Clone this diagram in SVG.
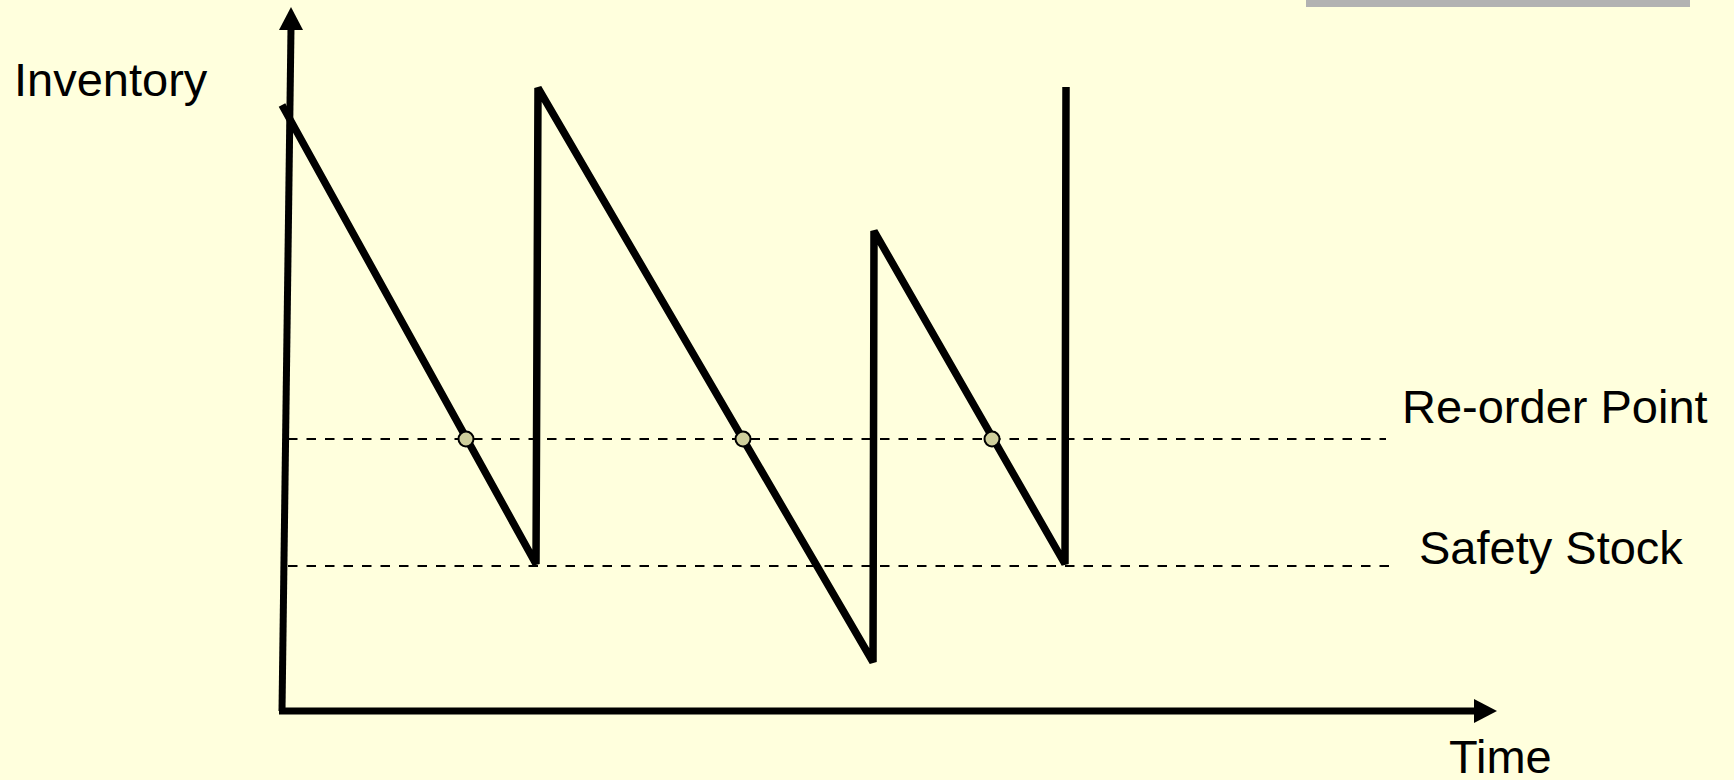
<svg xmlns="http://www.w3.org/2000/svg" width="1734" height="780" viewBox="0 0 1734 780">
<defs>
<style>
.lbl{font-family:"Liberation Sans",Arial,sans-serif;font-size:47px;fill:#000}
.axis{stroke:#000;stroke-width:7;fill:none}
.saw{stroke:#000;stroke-width:7.5;fill:none;stroke-linejoin:bevel;stroke-linecap:butt}
.dash{stroke:#000;stroke-width:2;stroke-dasharray:9.5 9;fill:none}
.pt{fill:#cfcf9c;stroke:#000;stroke-width:2}
</style>
</defs>
<rect width="1734" height="780" fill="#ffffdd"/>
<rect x="1306" y="0" width="384" height="7" fill="#b2b2b2"/>
<g id="guides">
<line class="dash" x1="288" y1="439" x2="1386" y2="439"/>
<line class="dash" x1="288" y1="566" x2="1394" y2="566"/>
</g>
<g id="axes">
<line class="axis" x1="282" y1="711" x2="291" y2="28"/>
<polygon points="291,7 279,30 303,30" fill="#000"/>
<line class="axis" x1="279" y1="711" x2="1476" y2="711"/>
<polygon points="1497,711 1474,699 1474,723" fill="#000"/>
</g>
<g id="connectors">
<polyline class="saw" points="282,105 536,564 538,88 873,662 874,231 1065,564 1066,87"/>
</g>
<g id="reorder-points">
<circle class="pt" cx="466" cy="439" r="7.5"/>
<circle class="pt" cx="743" cy="439" r="7.5"/>
<circle class="pt" cx="992" cy="439" r="7.5"/>
</g>
<g id="labels">
<text class="lbl" x="14" y="96">Inventory</text>
<text class="lbl" x="1402" y="423">Re-order Point</text>
<text class="lbl" x="1419" y="564">Safety Stock</text>
<text class="lbl" x="1449" y="773">Time</text>
</g>
</svg>
